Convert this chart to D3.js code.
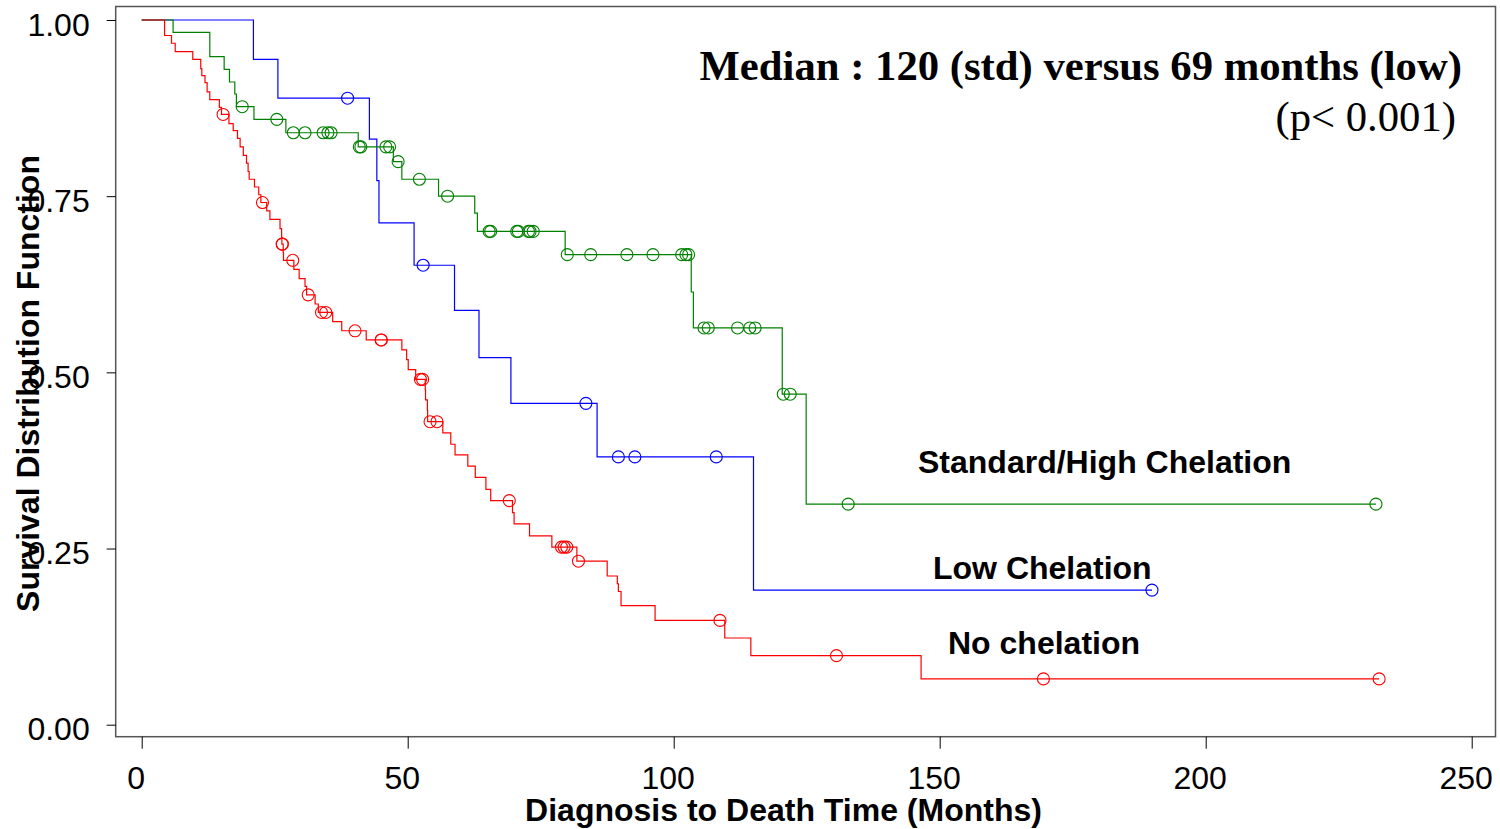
<!DOCTYPE html>
<html>
<head>
<meta charset="utf-8">
<script src="https://cdn.jsdelivr.net/npm/d3@7"></script>
<style>
  body { margin: 0; background: #fff; }
  svg { display: block; }
  text { font-family: "Liberation Sans", Arial, sans-serif; }
</style>
</head>
<body>
<div id="chart"></div>
<script>
// Kaplan-Meier steps: [months, survival after the drop]
var redSteps = [[4.3,0.978],[5.6,0.967],[6.3,0.955],[9.6,0.944],[11.1,0.931],[11.3,0.921],
  [11.9,0.911],[12.3,0.898],[12.8,0.887],[14.6,0.876],[15.0,0.866],[16.4,0.853],[17.2,0.843],
  [18.0,0.832],[18.5,0.820],[19.1,0.808],[19.7,0.797],[20.0,0.785],[20.2,0.774],[21.2,0.763],
  [22.0,0.752],[22.4,0.741],[23.5,0.729],[24.1,0.717],[26.0,0.704],[26.3,0.692],[26.35,0.682],
  [26.6,0.670],[26.65,0.659],[28.6,0.646],[29.6,0.633],[30.7,0.622],[31.0,0.610],[32.6,0.597],
  [33.2,0.585],[35.9,0.572],[37.6,0.559],[42.2,0.546],[48.9,0.532],[49.8,0.518],[50.1,0.504],
  [51.5,0.490],[53.3,0.475],[53.35,0.461],[53.7,0.446],[53.75,0.430],[56.6,0.414],[58.1,0.398],
  [58.9,0.383],[61.3,0.367],[62.7,0.351],[64.7,0.334],[65.6,0.318],[69.7,0.301],[70.0,0.285],
  [72.9,0.268],[77.1,0.252],[81.8,0.232],[87.5,0.211],[89.4,0.200],[89.6,0.189],[90.1,0.169],
  [96.5,0.148],[109.6,0.123],[114.5,0.098],[146.5,0.065]];
var redCensor = [15.3,22.7,26.4,26.45,28.4,31.3,33.8,34.6,40.1,45.0,45.05,52.4,52.8,54.2,55.5,
  69.1,78.9,79.4,79.9,82.1,108.7,130.6,169.5,232.6];

var greenSteps = [[5.9,0.9825],[12.8,0.948],[15.5,0.930],[16.5,0.912],[17.5,0.895],[17.8,0.877],
  [21.1,0.859],[27.1,0.840],[40.7,0.820],[47.3,0.799],[48.9,0.774],[55.8,0.750],[62.6,0.726],
  [63.1,0.700],[79.6,0.667],[103.3,0.614],[103.7,0.563],[120.4,0.469],[124.9,0.313]];
var greenCensor = [18.9,25.4,28.5,30.7,34.1,35.0,35.6,40.9,41.2,45.9,46.6,48.2,52.2,57.5,
  65.3,65.6,70.5,70.8,72.7,73.0,73.6,80.0,84.4,91.2,96.1,101.5,102.3,102.8,
  105.7,106.5,112.0,114.3,115.3,120.6,121.9,132.8,232.0];

var blueSteps = [[21.0,0.944],[25.6,0.889],[42.8,0.831],[44.2,0.772],[44.6,0.712],[51.2,0.652],
  [58.8,0.588],[63.4,0.521],[69.4,0.456],[85.6,0.380],[115.0,0.191]];
var blueCensor = [38.7,52.9,83.5,89.6,92.7,108.0,189.9];

var xTicks = [0, 50, 100, 150, 200, 250];
var yTicks = [0, 0.25, 0.5, 0.75, 1];

var groups = [
  {name: "Low Chelation", steps: blueSteps, censor: blueCensor, color: "#0000ff"},
  {name: "Standard/High Chelation", steps: greenSteps, censor: greenCensor, color: "#008000"},
  {name: "No chelation", steps: redSteps, censor: redCensor, color: "#ff0000"}
];

var width = 1500, height = 829;

var svg = d3.select("#chart").append("svg")
  .attr("width", width)
  .attr("height", height);

var x = d3.scaleLinear().domain([0, 250]).range([141.7, 1471.7]);
var y = d3.scaleLinear().domain([0, 1]).range([724.7, 20]);

// survival at time t from a step list
function survAt(steps, t) {
  var s = 1;
  steps.forEach(function(d) { if (d[0] <= t) s = d[1]; });
  return s;
}

var line = d3.line()
  .x(function(d) { return x(d[0]); })
  .y(function(d) { return y(d[1]); })
  .curve(d3.curveStepAfter);

groups.forEach(function(g) {
  var end = d3.max(g.censor);
  var pts = [[0, 1]].concat(g.steps);
  pts.push([end, survAt(g.steps, end)]);

  svg.append("path")
    .datum(pts)
    .attr("fill", "none")
    .attr("stroke", g.color)
    .attr("stroke-width", 1.2)
    .attr("d", line);

  svg.append("g").selectAll("circle")
    .data(g.censor)
    .join("circle")
    .attr("cx", function(d) { return x(d); })
    .attr("cy", function(d) { return y(survAt(g.steps, d)); })
    .attr("r", 6)
    .attr("fill", "none")
    .attr("stroke", g.color)
    .attr("stroke-width", 1.1);
});

// frame
svg.append("rect")
  .attr("x", 115.7).attr("y", 6.5)
  .attr("width", 1495.5 - 115.7).attr("height", 736.7 - 6.5)
  .attr("fill", "none")
  .attr("stroke", "#555")
  .attr("stroke-width", 1.5);

// y axis
var yAxis = svg.append("g")
  .attr("transform", "translate(115.7,0)")
  .call(d3.axisLeft(y).tickValues(yTicks).tickFormat(d3.format(".2f")).tickSize(9).tickPadding(17));
yAxis.select(".domain").remove();
yAxis.selectAll("text")
  .attr("y", 5)
  .style("font-size", "32px")
  .style("font-family", "'Liberation Sans', Arial, sans-serif")
  .attr("fill", "#000");

// x axis
var xAxis = svg.append("g")
  .attr("transform", "translate(0,736.7)")
  .call(d3.axisBottom(x).tickValues(xTicks).tickSize(12));
xAxis.select(".domain").remove();
xAxis.selectAll("text")
  .attr("y", 30)
  .attr("x", -6)
  .style("font-size", "32px")
  .style("font-family", "'Liberation Sans', Arial, sans-serif")
  .attr("fill", "#000");

// axis titles
svg.append("text")
  .attr("x", 783.5).attr("y", 821)
  .attr("text-anchor", "middle")
  .style("font-size", "32px").style("font-weight", "bold")
  .text("Diagnosis to Death Time (Months)");

svg.append("text")
  .attr("transform", "translate(38.5,383.5) rotate(-90)")
  .attr("text-anchor", "middle")
  .style("font-size", "32px").style("font-weight", "bold")
  .text("Survival Distribution Function");

// curve labels
var labels = [
  {text: "Standard/High Chelation", x: 918, y: 473},
  {text: "Low Chelation", x: 933, y: 579},
  {text: "No chelation", x: 948, y: 654}
];
svg.selectAll(".lbl")
  .data(labels)
  .join("text")
  .attr("class", "lbl")
  .attr("x", function(d) { return d.x; })
  .attr("y", function(d) { return d.y; })
  .style("font-size", "32px").style("font-weight", "bold")
  .text(function(d) { return d.text; });

// median note
svg.append("text")
  .attr("x", 1462).attr("y", 80)
  .attr("text-anchor", "end")
  .style("font-family", "'Liberation Serif', 'Times New Roman', serif")
  .style("font-size", "42.7px").style("font-weight", "bold")
  .text("Median : 120 (std) versus 69 months (low)");

svg.append("text")
  .attr("x", 1456).attr("y", 131)
  .attr("text-anchor", "end")
  .style("font-family", "'Liberation Serif', 'Times New Roman', serif")
  .style("font-size", "42.7px")
  .text("(p< 0.001)");
</script>
</body>
</html>
